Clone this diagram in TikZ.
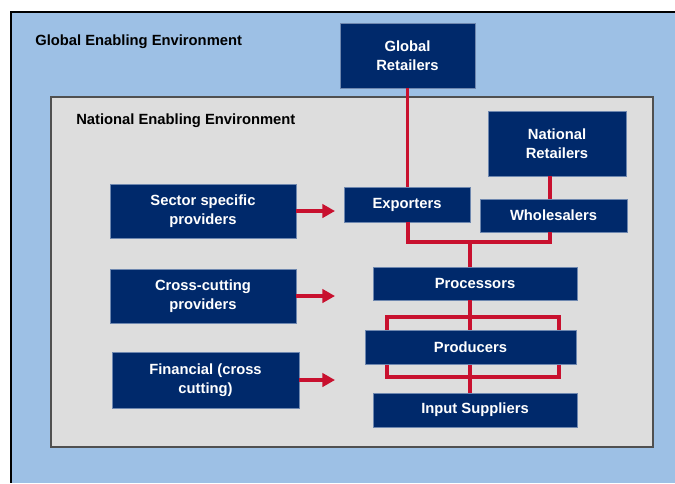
\documentclass[tikz,border=0pt]{standalone}
\usepackage{fontspec}
\setmainfont{Liberation Sans}
\usetikzlibrary{arrows.meta}
\definecolor{skyblue}{RGB}{157,192,229}
\definecolor{panel}{RGB}{221,221,221}
\definecolor{navy}{RGB}{0,41,107}
\definecolor{edgeblue}{RGB}{110,135,175}
\definecolor{crimson}{RGB}{200,16,46}
\definecolor{frame}{RGB}{80,80,80}
\tikzstyle{box} = [rectangle,draw=edgeblue,line width=0.5pt,fill=navy,text=white,align=center,inner sep=0pt,font=\fontsize{10.5}{13.5}\selectfont\bfseries]
\tikzstyle{title} = [anchor=west,inner sep=0pt,font=\fontsize{10.5}{13.5}\selectfont\bfseries]
\tikzstyle{link} = [draw=crimson,line width=2.8pt]
\tikzstyle{push} = [link,-{Triangle[length=9pt,width=9.5pt]}]

\begin{document}
\begin{tikzpicture}[x=0.025cm,y=-0.025cm]
		\useasboundingbox (0,0) rectangle (675,483);
		% environments
		\fill[skyblue] (11,12) rectangle (675,483);
		\draw[line width=0.8pt] (675,12) -- (11,12) -- (11,483);
		\draw[draw=frame,fill=panel,line width=1.2pt] (51,97) rectangle (653,447);
		\node [title](glabel) at (35,42){Global Enabling Environment};
		\node [title](nlabel) at (76,121){National Enabling Environment};
		
		% chain
		\node [box,minimum width=3.375cm,minimum height=1.625cm](glob) at (407.5,55.5){Global\\Retailers};
		\node [box,minimum width=3.15cm,minimum height=0.875cm](exp) at (407,204.5){Exporters};
		\node [box,minimum width=3.45cm,minimum height=1.625cm](natret) at (557,143.5){National\\Retailers};
		\node [box,minimum width=3.675cm,minimum height=0.825cm](whole) at (553.5,215.5){Wholesalers};
		\node [box,minimum width=5.1cm,minimum height=0.825cm](proc) at (475,283.5){Processors};
		\node [box,minimum width=5.1cm,minimum height=0.85cm](input) at (475,410){Input Suppliers};
		
		% providers
		\node [box,minimum width=4.65cm,minimum height=1.35cm](sector) at (203,211){Sector specific\\providers};
		\node [box,minimum width=4.65cm,minimum height=1.35cm](cross) at (203,296){Cross-cutting\\providers};
		\node [box,minimum width=4.675cm,minimum height=1.4cm](fin) at (205.5,380){Financial (cross\\cutting)};
		
		\coordinate (jl) at (408,242);
		\coordinate (jr) at (550,242);
		\coordinate (jc) at (470,242);
		\coordinate (tip) at (335,0);
		
		\draw[link](glob.south)--(glob.south |- exp.north);
		\draw[link](exp.south -| jl)--(jl)--(jr)--(whole.south -| jr);
		\draw[link](natret.south -| jr)--(whole.north -| jr);
		\draw[link](jc)--(proc.north -| jc);
		\draw[link](proc.south -| jc)--(input.north -| jc);
		\draw[link](387,317) rectangle (559,377);
		\node [box,minimum width=5.275cm,minimum height=0.85cm](prod) at (470.5,347){Producers};
		
		\draw[push](sector.east)--(sector.east -| tip);
		\draw[push](cross.east)--(cross.east -| tip);
		\draw[push](fin.east)--(fin.east -| tip);
		\end{tikzpicture}
\end{document}
